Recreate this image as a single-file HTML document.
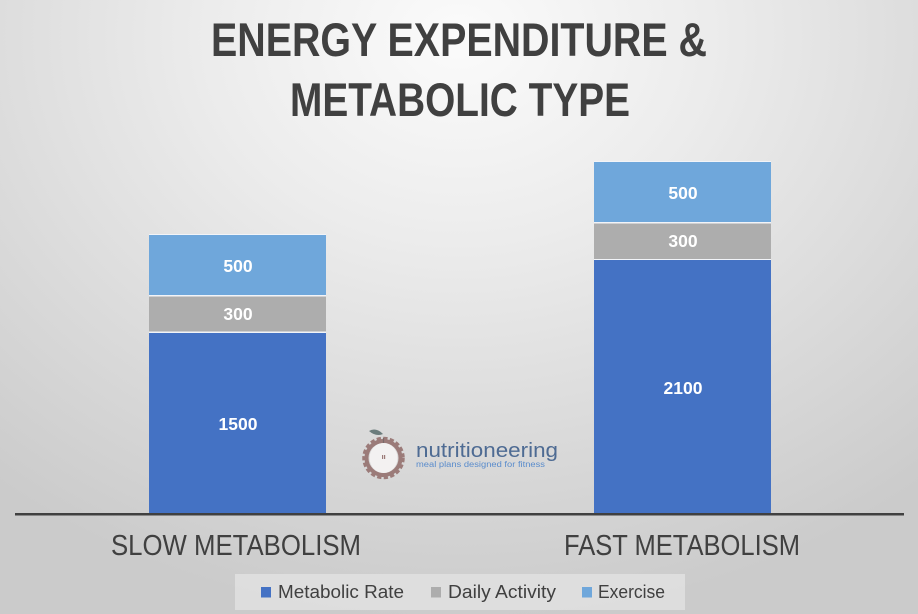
<!DOCTYPE html>
<html>
<head>
<meta charset="utf-8">
<style>
  html,body{margin:0;padding:0;}
  body{width:918px;height:614px;overflow:hidden;
    background: radial-gradient(ellipse 78% 95% at 50% 6%, #fbfbfb 0%, #ececec 35%, #dadada 70%, #cbcbcb 100%);}
  svg{display:block;}
  text{font-family:"Liberation Sans", Arial, sans-serif;}
</style>
</head>
<body>
<svg width="918" height="614" viewBox="0 0 918 614" xmlns="http://www.w3.org/2000/svg">
  <!-- Title -->
  <text x="459" y="56" text-anchor="middle" font-size="47" font-weight="bold" fill="#404040" textLength="496" lengthAdjust="spacingAndGlyphs">ENERGY EXPENDITURE &amp;</text>
  <text x="460" y="116" text-anchor="middle" font-size="47" font-weight="bold" fill="#404040" textLength="340" lengthAdjust="spacingAndGlyphs">METABOLIC TYPE</text>

  <!-- Slow bar -->
  <rect x="149" y="234" width="177" height="279" fill="#f2f4f8"/>
  <rect x="149" y="235" width="177" height="60" fill="#6fa7db"/>
  <rect x="149" y="296.5" width="177" height="35" fill="#adadad"/>
  <rect x="149" y="333" width="177" height="180" fill="#4472c4"/>

  <!-- Fast bar -->
  <rect x="594" y="161" width="177" height="352" fill="#f2f4f8"/>
  <rect x="594" y="162" width="177" height="60" fill="#6fa7db"/>
  <rect x="594" y="223.5" width="177" height="35.5" fill="#adadad"/>
  <rect x="594" y="260" width="177" height="253" fill="#4472c4"/>

  <!-- Data labels -->
  <g font-size="17.5" font-weight="bold" fill="#ffffff" text-anchor="middle">
    <text x="238" y="272">500</text>
    <text x="238" y="320">300</text>
    <text x="238" y="430">1500</text>
    <text x="683" y="199">500</text>
    <text x="683" y="247">300</text>
    <text x="683" y="394">2100</text>
  </g>

  <!-- Axis -->
  <rect x="15" y="513" width="889" height="2.5" fill="#404040"/>

  <!-- Category labels -->
  <text x="236" y="555" text-anchor="middle" font-size="29" fill="#404040" textLength="250" lengthAdjust="spacingAndGlyphs">SLOW METABOLISM</text>
  <text x="682" y="555" text-anchor="middle" font-size="29" fill="#404040" textLength="236" lengthAdjust="spacingAndGlyphs">FAST METABOLISM</text>

  <!-- Logo -->
  <g>
    <circle cx="383.5" cy="458" r="18.5" fill="none" stroke="#9b7b79" stroke-width="5.5" stroke-dasharray="4 2.2"/>
    <circle cx="383.5" cy="458" r="17" fill="none" stroke="#9b7b79" stroke-width="4"/>
    <ellipse cx="383.5" cy="458" rx="14" ry="15" fill="#f3f1f1"/>
    <line x1="383.5" y1="438" x2="383.5" y2="443" stroke="#7a6a6a" stroke-width="1.2"/>
    <path d="M383 434 Q376 427 369 431 Q376 437 383 434 Z" fill="#6b7c7c"/>
    <rect x="382" y="455" width="1.2" height="4" fill="#9b7b79"/>
    <rect x="384" y="455" width="1.2" height="4" fill="#9b7b79"/>
    <text x="416" y="457" font-size="20.5" fill="#4e6b93" textLength="142" lengthAdjust="spacingAndGlyphs">nutritioneering</text>
    <text x="416" y="467" font-size="8" fill="#5a8ccc" textLength="129" lengthAdjust="spacingAndGlyphs">meal plans designed for fitness</text>
  </g>

  <!-- Legend -->
  <rect x="235" y="574" width="450" height="36" fill="#e0e0e0" opacity="0.85"/>
  <rect x="261" y="587" width="10" height="10.5" fill="#4472c4"/>
  <text x="278" y="598" font-size="18" fill="#404040" textLength="126" lengthAdjust="spacingAndGlyphs">Metabolic Rate</text>
  <rect x="431" y="587" width="10" height="10.5" fill="#adadad"/>
  <text x="448" y="598" font-size="18" fill="#404040" textLength="108" lengthAdjust="spacingAndGlyphs">Daily Activity</text>
  <rect x="582" y="587" width="10" height="10.5" fill="#6fa7db"/>
  <text x="598" y="598" font-size="18" fill="#404040" textLength="67" lengthAdjust="spacingAndGlyphs">Exercise</text>
</svg>
</body>
</html>
